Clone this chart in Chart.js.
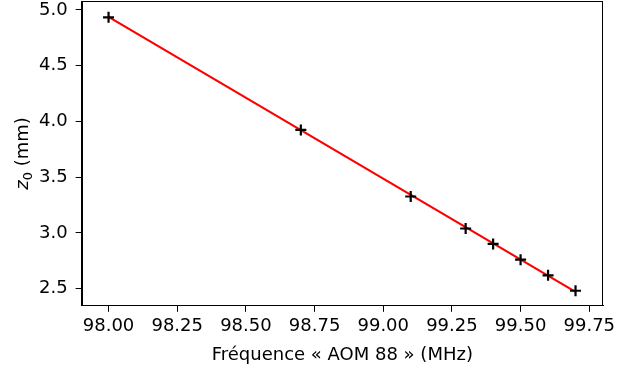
<!DOCTYPE html>
<html>
<head>
<meta charset="utf-8">
<script src="https://cdn.jsdelivr.net/npm/chart.js@4.4.1/dist/chart.umd.min.js"></script>
<style>
  html, body { margin: 0; padding: 0; background: #fff; }
  #wrap { width: 636px; height: 370px; }
</style>
</head>
<body>
<div id="wrap"><canvas id="myChart" width="636" height="370"></canvas></div>
<script>
// measured points
var freq = [98.0, 98.7, 99.1, 99.3, 99.4, 99.5, 99.6, 99.7];
var z0 = [4.934, 3.924, 3.327, 3.040, 2.902, 2.761, 2.620, 2.482];
// linear fit, drawn between its end points
var fitFreq = [98.0, 99.7];
var fitZ0 = [4.938, 2.472];
// tick labels
var xTicks = [98.0, 98.25, 98.5, 98.75, 99.0, 99.25, 99.5, 99.75];
var yTicks = [2.5, 3.0, 3.5, 4.0, 4.5, 5.0];

var font = "'DejaVu Sans', sans-serif";

// box round the plot + y label with italic z and subscript 0
var frame = {
    id: "frame",
    afterDatasetsDraw: function (c) {
        var a = c.chartArea;
        var ctx = c.ctx;
        ctx.save();
        ctx.strokeStyle = "#000";
        ctx.lineWidth = 1;
        ctx.strokeRect(Math.round(a.left) + 0.5, Math.round(a.top) + 0.5,
            Math.round(a.right - a.left) - 1, Math.round(a.bottom - a.top) - 1);
        ctx.restore();
    },
    afterDraw: function (c) {
        var a = c.chartArea;
        var ctx = c.ctx;
        ctx.save();
        ctx.fillStyle = "#000";
        ctx.textBaseline = "alphabetic";
        ctx.textAlign = "left";
        var fz = "italic 18px " + font;
        var fs = "13px " + font;
        var fr = "18px " + font;
        ctx.font = fz; var wz = ctx.measureText("z").width;
        ctx.font = fs; var ws = ctx.measureText("0").width;
        ctx.font = fr; var wr = ctx.measureText(" (mm)").width;
        var total = wz + ws + wr;
        ctx.translate(28, (a.top + a.bottom) / 2);
        ctx.rotate(-Math.PI / 2);
        var x = -total / 2;
        ctx.font = fz; ctx.fillText("z", x, 0); x += wz;
        ctx.font = fs; ctx.fillText("0", x, 4); x += ws;
        ctx.font = fr; ctx.fillText(" (mm)", x, 0);
        ctx.restore();
    }
};

// no extra room for the outer tick labels, like matplotlib
var noPad = function (s) {
    s.paddingTop = 0;
    s.paddingBottom = 0;
    s.paddingLeft = 0;
    s.paddingRight = 0;
};

var myChart = document.getElementById("myChart").getContext("2d");
var chart = new Chart(myChart, {
    type: "scatter",
    data: {
        datasets: [
            {
                label: "mesures",
                data: freq.map(function (f, i) { return { x: f, y: z0[i] }; }),
                pointStyle: "cross",
                pointRadius: 5.5,
                pointBorderWidth: 2.2,
                borderColor: "#000",
                backgroundColor: "#000",
                showLine: false,
                order: 0
            },
            {
                label: "ajustement",
                data: fitFreq.map(function (f, i) { return { x: f, y: fitZ0[i] }; }),
                showLine: true,
                borderColor: "#ff0000",
                borderWidth: 2.2,
                pointRadius: 0,
                order: 1
            }
        ]
    },
    options: {
        responsive: false,
        animation: false,
        layout: { autoPadding: false, padding: { top: 1, right: 33, bottom: 4, left: 31 } },
        plugins: { legend: { display: false }, tooltip: { enabled: false } },
        scales: {
            x: {
                type: "linear",
                min: 97.902,
                max: 99.80,
                afterBuildTicks: function (s) {
                    s.ticks = xTicks.map(function (v) { return { value: v }; });
                },
                afterFit: noPad,
                grid: { drawOnChartArea: false, drawTicks: true, tickLength: 6, tickColor: "#000" },
                border: { display: true, color: "#000" },
                ticks: {
                    color: "#000",
                    padding: 4,
                    maxRotation: 0,
                    font: { family: font, size: 18 },
                    callback: function (v) { return v.toFixed(2); }
                },
                title: {
                    display: true,
                    text: "Fréquence « AOM 88 » (MHz)",
                    color: "#000",
                    padding: { top: 3, bottom: 0 },
                    font: { family: font, size: 18 }
                }
            },
            y: {
                type: "linear",
                min: 2.347,
                max: 5.08,
                afterBuildTicks: function (s) {
                    s.ticks = yTicks.map(function (v) { return { value: v }; });
                },
                afterFit: noPad,
                grid: { drawOnChartArea: false, drawTicks: true, tickLength: 6, tickColor: "#000" },
                border: { display: true, color: "#000" },
                ticks: {
                    color: "#000",
                    padding: 8,
                    font: { family: font, size: 18 },
                    callback: function (v) { return v.toFixed(1); }
                }
            }
        }
    },
    plugins: [frame]
});
</script>
</body>
</html>
